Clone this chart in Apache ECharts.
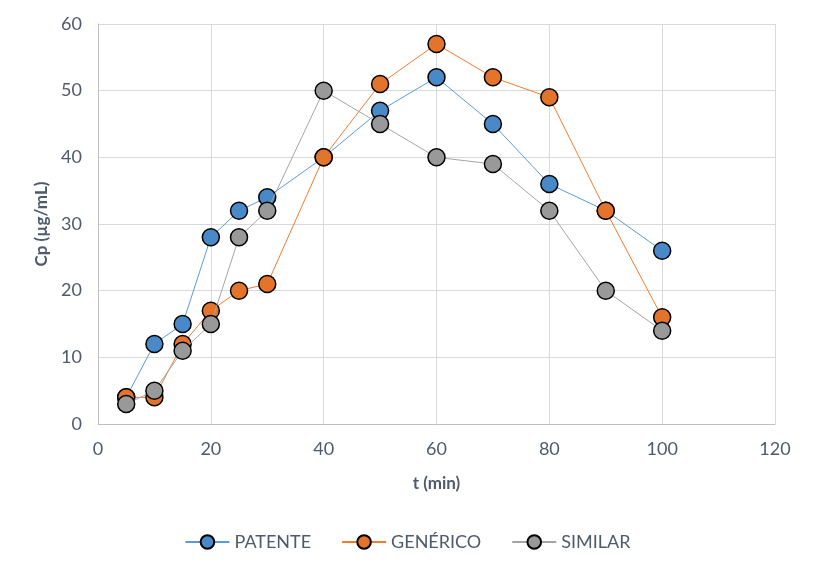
<!DOCTYPE html>
<html><head><meta charset="utf-8">
<script src="https://cdn.jsdelivr.net/npm/echarts@6/dist/echarts.min.js"></script>
<style>html,body{margin:0;padding:0;background:#fff}#c{width:815px;height:572px}</style>
</head><body><div id="c"></div>
<script>
var tValues = [5,10,15,20,25,30,40,50,60,70,80,90,100];
var patente = [4,12,15,28,32,34,40,47,52,45,36,32,26];
var generico = [4,4,12,17,20,21,40,51,57,52,49,32,16];
var similar = [3,5,11,15,28,32,50,45,40,39,32,20,14];
var seriesNames = ['PATENTE','GENÉRICO','SIMILAR'];

function pairs(v){ return tValues.map(function(t,i){ return [t, v[i]]; }); }
var lineColors = ['#5B9BD5','#ED7D31','#A5A5A5'];
var markColors = ['#4a89c8','#e4742c','#999999'];
var dataSets = [patente, generico, similar];
var txt = '#4f5a6b';

var chart = echarts.init(document.getElementById('c'));
chart.setOption({
  animation:false,
  textStyle:{fontFamily:'Lato, sans-serif'},
  grid:{left:98,right:40,top:24,bottom:148},
  legend:{
    bottom:16, left:'center', itemGap:30, itemWidth:44, itemHeight:17,
    textStyle:{color:txt,fontSize:18,fontFamily:'Lato, sans-serif'},
    data:seriesNames
  },
  xAxis:{
    type:'value', min:0, max:120, interval:20,
    name:'t (min)', nameLocation:'middle', nameGap:51,
    nameTextStyle:{color:txt,fontSize:17,fontWeight:'bold'},
    axisLine:{show:true,lineStyle:{color:'#bfbfbf'}},
    axisTick:{show:false},
    axisLabel:{color:txt,fontSize:18,margin:16},
    splitLine:{show:true,lineStyle:{color:'#d9d9d9'}}
  },
  yAxis:{
    type:'value', min:0, max:60, interval:10,
    name:'Cp (µg/mL)', nameLocation:'middle', nameGap:48,
    nameTextStyle:{color:txt,fontSize:17,fontWeight:'bold'},
    axisLine:{show:true,lineStyle:{color:'#bfbfbf'}},
    axisTick:{show:false},
    axisLabel:{color:txt,fontSize:18,margin:16},
    splitLine:{show:true,lineStyle:{color:'#d9d9d9'}}
  },
  series: seriesNames.map(function(n,i){
    return {
      name:n, type:'line', data:pairs(dataSets[i]),
      symbol:'circle', symbolSize:17,
      lineStyle:{color:lineColors[i],width:1},
      itemStyle:{color:markColors[i],borderColor:'#000',borderWidth:1.5},
      z:2+i
    };
  })
});
</script></body></html>
